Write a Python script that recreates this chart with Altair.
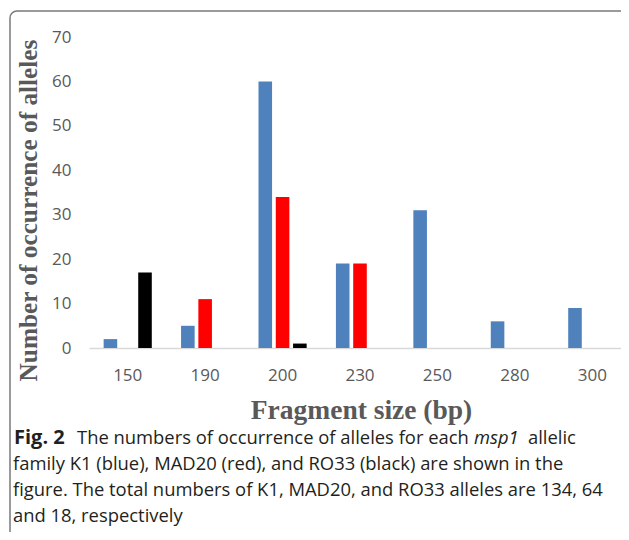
import altair as alt
import pandas as pd

categories = ["150", "190", "200", "230", "250", "280", "300"]
series = ["K1", "MAD20", "RO33"]
k1 = [2, 5, 60, 19, 31, 6, 9]
mad20 = [0, 11, 34, 19, 0, 0, 0]
ro33 = [17, 0, 1, 0, 0, 0, 0]
colors = ["#4f81bd", "#ff0000", "#000000"]

rows = []
for i, c in enumerate(categories):
    for s, vals in zip(series, [k1, mad20, ro33]):
        rows.append({"size": c, "family": s, "count": vals[i]})
df = pd.DataFrame(rows)

W, H = 532, 311
GRAY = "#595959"
CAP = "#231f20"

bars = alt.Chart(df).mark_bar().encode(
    x=alt.X("size:N", sort=categories,
            scale=alt.Scale(paddingInner=0.33, paddingOuter=0.165, range=[0, 542]),
            axis=alt.Axis(title="Fragment size (bp)", labelAngle=0, ticks=False,
                          domainColor="#d9d9d9", domainWidth=1.5,
                          labelFont="Open Sans", labelFontSize=17, labelColor=GRAY,
                          labelPadding=19,
                          titleFont="Liberation Serif", titleFontSize=27.5, titleFontWeight="bold",
                          titleColor=GRAY, titleX=272, titleY=70, titleBaseline="alphabetic",
                          titleAlign="center")),
    xOffset=alt.XOffset("family:N", sort=series,
                        scale=alt.Scale(domain=series, paddingInner=0.215, paddingOuter=0.1075)),
    y=alt.Y("count:Q", scale=alt.Scale(domain=[0, 70], nice=False),
            axis=alt.Axis(title="Number of occurrence of alleles", values=list(range(0, 71, 10)),
                          grid=False, domain=False, ticks=False,
                          labelFont="Open Sans", labelFontSize=17, labelColor=GRAY,
                          labelPadding=18,
                          titleFont="Liberation Serif", titleFontSize=25.3, titleFontWeight="bold",
                          titleColor=GRAY, titleX=-53, titleY=173, titleBaseline="alphabetic",
                          titleAngle=-90, titleAlign="center")),
    color=alt.Color("family:N", sort=series,
                    scale=alt.Scale(domain=series, range=colors), legend=None),
)

one = pd.DataFrame({"a": [0]})

frame = alt.Chart(one).mark_rect(fillOpacity=0, stroke="#7a7a7a", strokeWidth=1.5,
                                 cornerRadius=7).encode(
    x=alt.value(-79), x2=alt.value(580), y=alt.value(-26), y2=alt.value(560))


def cap_text(txt, x, y, weight="normal", style="normal", size=18.4):
    return alt.Chart(one).mark_text(align="left", baseline="alphabetic", font="Open Sans",
                                    fontSize=size, fontWeight=weight, fontStyle=style,
                                    color=CAP).encode(
        x=alt.value(x), y=alt.value(y), text=alt.value(txt))


caps = [
    cap_text("Fig. 2", -75, 407, weight="bold", size=20),
    cap_text("The numbers of occurrence of alleles for each", -12, 407),
    cap_text("msp1", 385, 407, style="italic"),
    cap_text("allelic", 439, 407),
    cap_text("family K1 (blue), MAD20 (red), and RO33 (black) are shown in the", -76, 433),
    cap_text("figure. The total numbers of K1, MAD20, and RO33 alleles are 134, 64", -76, 459),
    cap_text("and 18, respectively", -76, 485),
]

chart = alt.layer(frame, bars, *caps).properties(
    width=W, height=H,
    autosize=alt.AutoSizeParams(type="none"),
    padding={"left": 81, "top": 29, "right": 0, "bottom": 184},
).configure_view(stroke=None)

chart.save("out.html", embed_options={"renderer": "svg", "actions": False})
